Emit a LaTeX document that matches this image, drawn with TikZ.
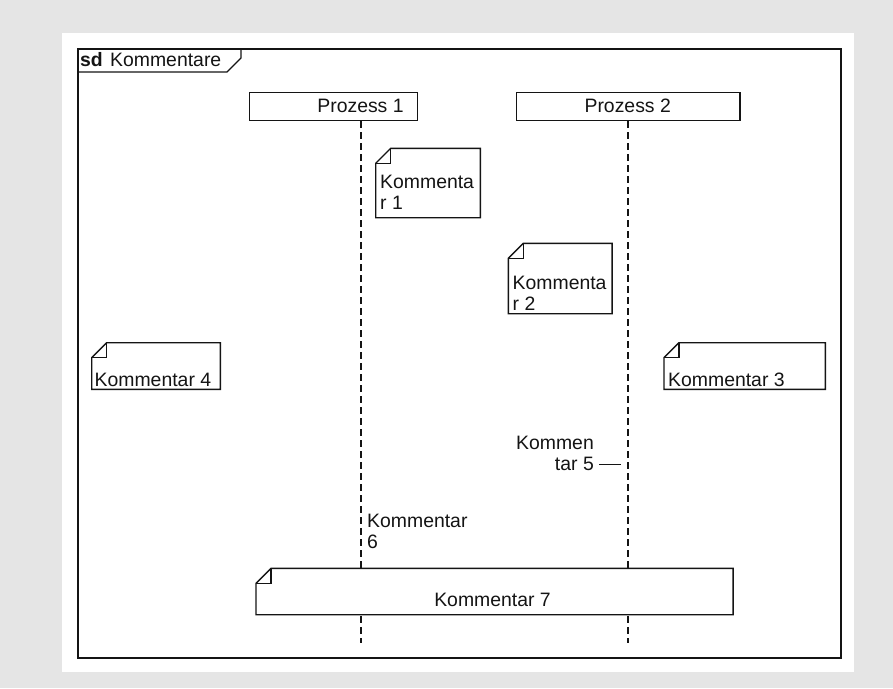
\documentclass[tikz,border=0pt]{standalone}
\usepackage{fontspec}
\setmainfont{Liberation Sans}
\definecolor{pagebg}{RGB}{229,229,229}
\definecolor{ink}{RGB}{20,20,20}
% outline of a UML note: rectangle with a folded top-left corner
\newcommand{\notefold}[1]{%
  \draw[noteline] ([xshift=15pt]#1.north west) -- (#1.north east) -- (#1.south east)
     -- (#1.south west) -- ([yshift=-15pt]#1.north west) -- cycle;
  \draw[noteline] ([yshift=-15pt]#1.north west) -| ([xshift=15pt]#1.north west);}
\begin{document}
\begin{tikzpicture}[x=1pt,y=-1pt,
  every node/.style={font=\fontsize{19.4}{21.3}\selectfont, inner sep=0pt, text=ink},
  framebox/.style={draw=ink, line width=1.7pt, minimum width=763pt, minimum height=609pt, anchor=north west},
  lifehead/.style={draw=ink, line width=1.4pt, fill=white, anchor=north west, minimum height=28.5pt},
  lifeline/.style={draw=ink, line width=2.3pt, dash pattern=on 7pt off 4pt},
  notebody/.style={fill=white, anchor=north west},
  noteline/.style={draw=ink, line width=1.4pt},
  notetext/.style={align=left, anchor=north west},
  leader/.style={draw=ink, line width=1pt}]

% page and canvas
\fill[pagebg] (0,0) rectangle (893,688);
\useasboundingbox (0,0) rectangle (893,688);
\fill[white] (62,33) rectangle (854,672);

% sequence diagram frame with its name tab
\node[framebox] (fr) at (77,48) {};
\draw[ink, line width=1.4pt] (fr.north west) ++(164,0) -- ++(0,10) -- ++(-14,14) -- ++(-150,0);
\node[anchor=base west, font=\fontsize{19.4}{21.3}\selectfont\bfseries] (sd) at (80,66.7) {sd};
\node[anchor=base west] (title) at (110,66.7) {Kommentare};

% lifeline heads
\node[lifehead, minimum width=168pt] (p1) at (249,91.5) {};
\node[anchor=base] (p1t) at (360.5,112.5) {Prozess 1};
\node[lifehead, minimum width=223.5pt] (p2) at (515.7,91.5) {};
\node[anchor=base] (p2t) at (627.7,112.5) {Prozess 2};

% lifelines
\coordinate (e1) at (361,643);
\coordinate (e2) at (627.7,643);
\draw[lifeline] (p1.south -| e1) -- (e1);
\draw[lifeline] (p2.south -| e2) -- (e2);

% notes
\node[notebody, minimum width=104.3pt, minimum height=69pt] (n1) at (375.7,148.3) {};
\notefold{n1}
\node[notetext] (t1) at (380,175) {Kommenta\\r 1};

\node[notebody, minimum width=103.4pt, minimum height=70pt] (n2) at (508.3,243.3) {};
\notefold{n2}
\node[notetext] (t2) at (512.5,276) {Kommenta\\r 2};

\node[notebody, minimum width=161pt, minimum height=46.3pt] (n3) at (664,342.7) {};
\notefold{n3}
\node[anchor=base west] (t3) at (668,386) {Kommentar 3};

\node[notebody, minimum width=128.3pt, minimum height=46.3pt] (n4) at (91.7,342.7) {};
\notefold{n4}
\node[anchor=base west] (t4) at (94.5,386) {Kommentar 4};

% free comments beside the lifelines
\node[align=right, anchor=north east] (t5) at (594,436) {Kommen\\tar 5};
\coordinate (c5a) at (599,464);
\coordinate (c5b) at (621,464);
\draw[leader] (c5a) -- (c5b);

\node[notetext] (t6) at (367,514) {Kommentar\\6};

% wide note across both lifelines
\node[notebody, minimum width=476.7pt, minimum height=46pt] (n7) at (256,568.3) {};
\notefold{n7}
\node[anchor=base] (t7) at (492.5,606.7) {Kommentar 7};
\end{tikzpicture}
\end{document}
